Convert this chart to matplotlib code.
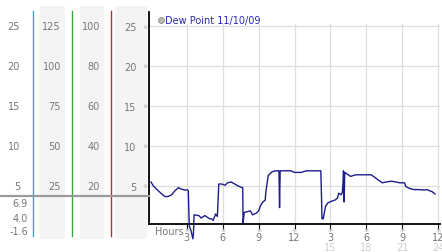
import matplotlib
matplotlib.use("Agg")
import matplotlib.pyplot as plt
from matplotlib.lines import Line2D
from matplotlib.patches import Rectangle
from matplotlib.transforms import blended_transform_factory

# dew point trace, hours since midnight vs value
hours = [0.0, 0.2, 0.47, 0.9, 1.17, 1.45, 1.72, 2.0, 2.3, 2.55, 2.85, 3.06,
         3.12, 3.2, 3.35, 3.5, 3.55, 3.6, 4.0, 4.2, 4.5, 4.9, 5.05, 5.2,
         5.4, 5.55, 5.67, 5.9, 6.2, 6.4, 6.7, 7.0, 7.3, 7.6, 7.67, 7.7,
         7.8, 8.1, 8.3, 8.5, 8.8, 9.0, 9.15, 9.3, 9.55, 9.6, 9.8, 10.1,
         10.4, 10.7, 10.75, 10.8, 10.9, 11.7, 12.0, 12.55, 13.0, 14.2, 14.25,
         14.3, 14.4, 14.5, 14.6, 14.8, 15.1, 15.4, 15.6, 15.7, 15.9, 16.0,
         16.05, 16.1, 16.15, 16.2, 16.4, 16.7, 17.1, 17.8, 18.4, 18.7, 19.0,
         19.35, 19.65, 20.1, 20.5, 20.8, 21.2, 21.3, 21.6, 22.0, 22.4, 22.8,
         23.1, 23.3, 23.5, 23.75]
dew = [5.5, 5.0, 4.6, 4.0, 3.67, 3.7, 3.9, 4.4, 4.8, 4.6, 4.5, 4.5,
       4.4, 0.0, -0.6, -1.6, -1.0, 1.4, 1.3, 1.0, 1.3, 0.9, 0.9, 0.7,
       1.5, 1.2, 5.25, 5.25, 5.1, 5.4, 5.5, 5.25, 5.0, 4.8, 4.8, 0.4,
       1.7, 1.8, 1.9, 1.4, 1.6, 1.9, 2.5, 2.9, 3.25, 4.2, 6.3, 6.75,
       6.9, 6.9, 2.3, 6.9, 6.9, 6.9, 6.7, 6.7, 6.9, 6.9, 4.2,
       0.9, 0.9, 1.7, 2.5, 2.9, 3.1, 3.25, 3.5, 4.1, 3.9, 4.2,
       5.25, 6.9, 3.0, 6.7, 6.5, 6.2, 6.4, 6.4, 6.4, 6.1, 5.75,
       5.4, 5.5, 5.6, 5.5, 5.4, 5.4, 4.95, 4.7, 4.55, 4.55, 4.5,
       4.55, 4.4, 4.3, 4.0]

y_ticks = [5, 10, 15, 20, 25]
scale_b = [25, 50, 75, 100, 125]
scale_c = [20, 40, 60, 80, 100]
x_ticks = [3, 6, 9, 12, 15, 18, 21, 24]
x_labels = ["3", "6", "9", "12", "3", "6", "9", "12"]
x_ticks_24 = [15, 18, 21, 24]
stats = ["6.9", "4.0", "-1.6"]
legend_label = "Dew Point 11/10/09"

W, H = 442, 253
LINE = "#1c1c8c"
GRAY_TXT = "#777777"
MARK = "#b0b0b0"


def fx(x):
    return x / W


def fy(y):
    return (H - y) / H


fig = plt.figure(figsize=(W / 100, H / 100), dpi=100)
fig.patch.set_facecolor("white")

# main plot area (pixel box 149..440 x 13..225)
ax = fig.add_axes([fx(149), fy(225), fx(440) - fx(149), fy(13) - fy(225)])
ax.set_xlim(-2 / 12, 24 + 2 / 12)
ax.set_ylim(0.25, 26.75)

for v in y_ticks:
    ax.axhline(v, color="#dddddd", lw=0.9, zorder=1)
for h in x_ticks:
    ax.plot([h, h], [0.25, 25.3], color="#dddddd", lw=0.9, zorder=1)

ax.plot(hours, dew, color=LINE, lw=1.0, zorder=3, clip_on=False)

for s in ["top", "right"]:
    ax.spines[s].set_visible(False)
ax.spines["left"].set_linewidth(1.3)
ax.spines["bottom"].set_linewidth(1.3)

ax.set_yticks(y_ticks)
ax.set_yticklabels([str(v) for v in y_ticks])
ax.tick_params(axis="y", length=0, pad=9, labelsize=7, labelcolor=GRAY_TXT)
ax.set_xticks(x_ticks)
ax.set_xticklabels([])

xt = ax.get_xaxis_transform()
for h, lab in zip(x_ticks, x_labels):
    ax.text(h, -0.025, "\u203b", transform=xt, ha="center", va="center",
            fontsize=4.5, color=MARK, clip_on=False)
    ax.text(h, -0.062, lab, transform=xt, ha="center", va="center",
            fontsize=7, color=GRAY_TXT, clip_on=False)
for h in x_ticks_24:
    ax.text(h, -0.108, str(h), transform=xt, ha="center", va="center",
            fontsize=7, color="#cccccc", clip_on=False)
ax.text(0.02, -0.035, "Hours", transform=ax.transAxes, ha="left", va="center",
        fontsize=7, color=GRAY_TXT)

# left side scales
bt = blended_transform_factory(fig.transFigure, ax.transData)
for x0, x1 in [(40, 65), (80, 104), (115, 147)]:
    fig.add_artist(Rectangle((fx(x0), fy(240)), fx(x1) - fx(x0), fy(7) - fy(240),
                             transform=fig.transFigure, facecolor="#f4f4f4",
                             edgecolor="none", zorder=0))
for x, c in [(33, "#3aa3cf"), (72, "#3aa53a"), (111, "#b03434")]:
    fig.add_artist(Line2D([fx(x), fx(x)], [fy(237), fy(12)],
                          transform=fig.transFigure, color=c, lw=1.0, zorder=2))

for v, b, c in zip(y_ticks, scale_b, scale_c):
    fig.text(fx(20), v, str(v), transform=bt, ha="right", va="center",
             fontsize=7, color=GRAY_TXT)
    fig.text(fx(61), v, str(b), transform=bt, ha="right", va="center",
             fontsize=7, color=GRAY_TXT)
    fig.text(fx(100), v, str(c), transform=bt, ha="right", va="center",
             fontsize=7, color=GRAY_TXT)
    fig.text(fx(145), v, "\u203b", transform=bt, ha="center", va="center",
             fontsize=4.5, color=MARK)

fig.add_artist(Line2D([0, fx(149)], [fy(197), fy(197)], transform=fig.transFigure,
                      color="#9a9a9a", lw=1.6, zorder=3))
for s, y in zip(stats, [204, 219, 232]):
    fig.text(fx(28), fy(y), s, ha="right", va="center", fontsize=7, color=GRAY_TXT)

# legend
fig.add_artist(Line2D([fx(160.5)], [fy(21)], transform=fig.transFigure,
                      marker="o", markersize=4.2, markerfacecolor="#b8b8b8",
                      markeredgecolor="#8a8a8a", markeredgewidth=0.6,
                      linestyle="none"))
fig.text(fx(165), fy(21), legend_label, ha="left", va="center",
         fontsize=7, color="#2a2aa8")

fig.savefig("out.png", dpi=100)
